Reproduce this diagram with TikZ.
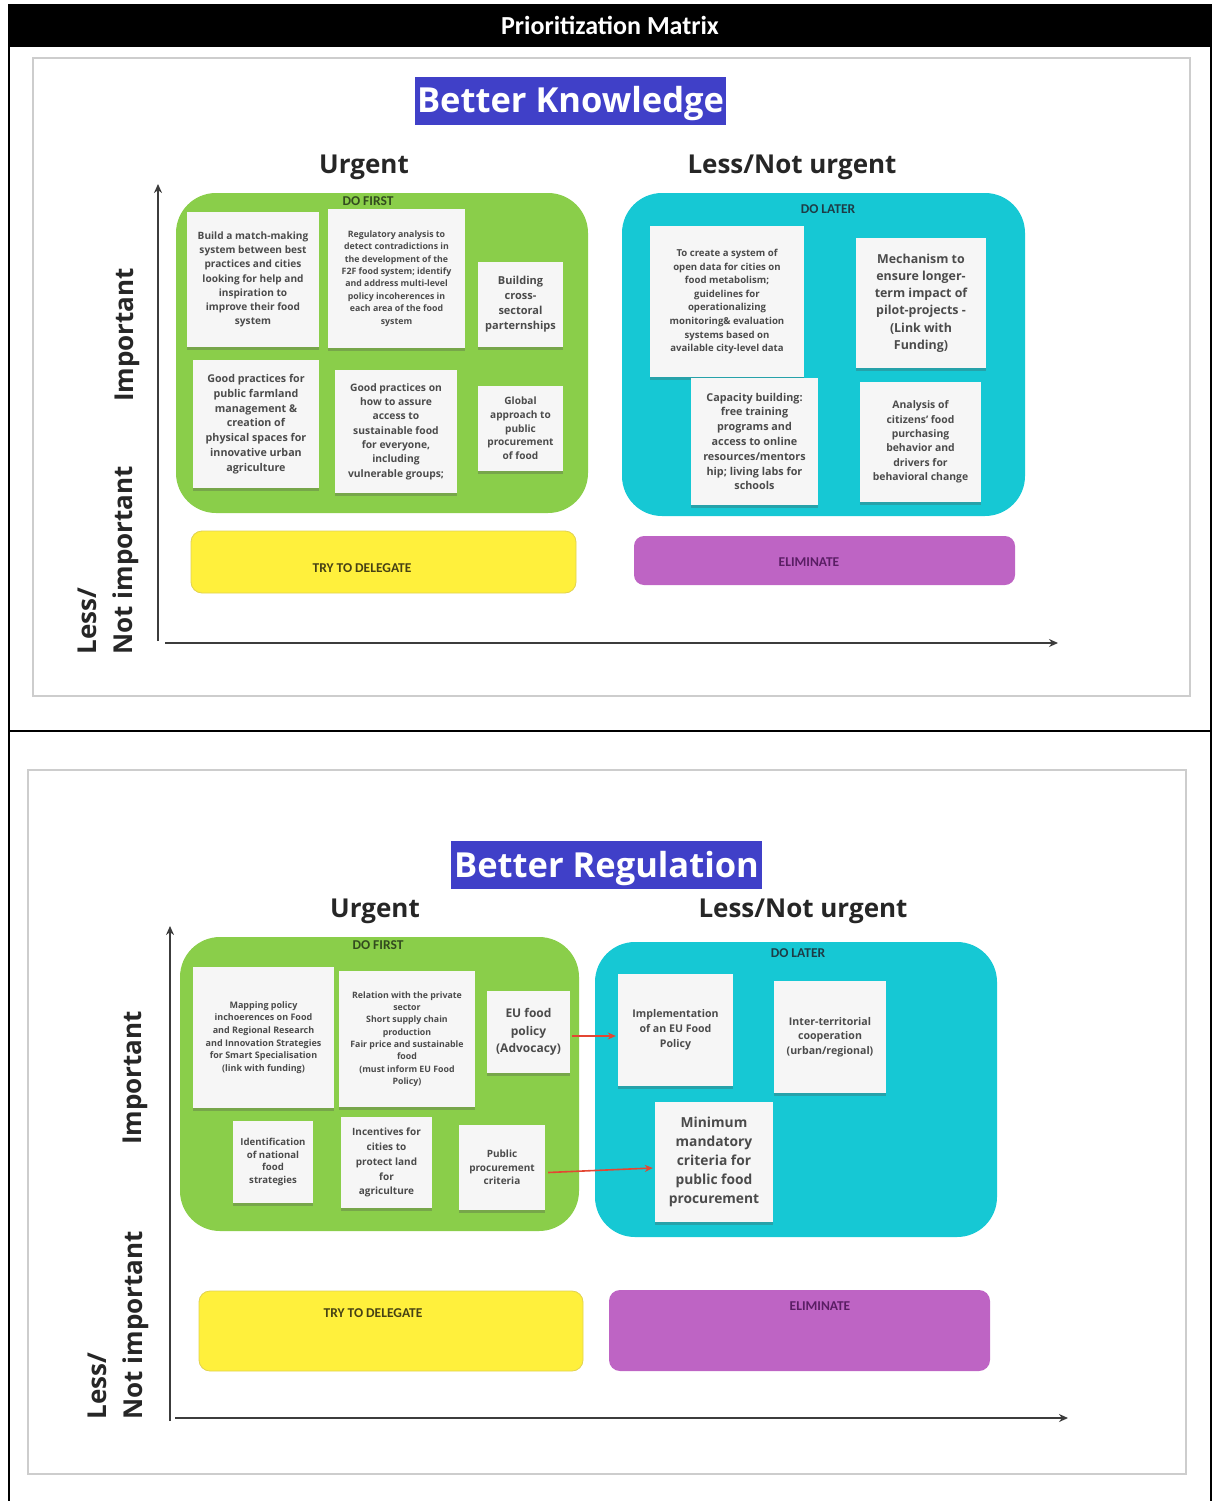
\documentclass[tikz,border=0pt]{standalone}
\usepackage{fontspec}
\setmainfont{Open Sans}
\newfontfamily\hdrfont{Carlito}
\usetikzlibrary{arrows.meta,shadows}
\definecolor{pgreen}{RGB}{138,206,74}
\definecolor{pteal}{RGB}{22,200,212}
\definecolor{pyellow}{RGB}{255,240,60}
\definecolor{pyellowd}{RGB}{225,210,80}
\definecolor{ppurple}{RGB}{190,100,196}
\definecolor{ptitle}{RGB}{64,64,200}
\definecolor{notefill}{RGB}{246,246,246}
\definecolor{notetext}{RGB}{75,75,75}
\definecolor{axisc}{RGB}{60,60,60}
\definecolor{framec}{RGB}{205,205,205}
\definecolor{arrowred}{RGB}{228,70,50}
\newcommand\nf[2]{\fontsize{#1}{#2}\selectfont\bfseries}
\tikzset{
  note/.style={fill=notefill, draw=none, inner sep=0pt, align=center, text=notetext,
    drop shadow={shadow xshift=0pt, shadow yshift=-3pt, opacity=0.3, fill=black!70}},
  bigbox/.style={draw=none, inner sep=0pt, rounded corners=40pt},
  smallbox/.style={inner sep=0pt, rounded corners=11pt},
  boxlabel/.style={font=\hdrfont\fontsize{13.5}{15}\selectfont\bfseries},
  axislabel/.style={font=\fontsize{26}{36}\selectfont\bfseries, text=black!85},
  titlebox/.style={fill=ptitle, text=white, inner sep=0pt, minimum width=311pt, minimum height=48pt,
    text height=26pt, text depth=2pt, font=\fontsize{34.5}{36}\selectfont\bfseries},
  axis/.style={draw=axisc, line width=2.2pt, -{Stealth[length=9pt,width=8pt]}},
  frame/.style={draw=framec, line width=2pt},
  redarrow/.style={draw=arrowred, line width=1.6pt, -{Stealth[length=8pt,width=7pt]}}
}
\begin{document}
\begin{tikzpicture}[x=1pt,y=-1pt]
\useasboundingbox (0,0) rectangle (1213,1501);
% table
\fill[black] (8,4) rectangle (1212,47);
\node[text=white, font=\hdrfont\fontsize{26}{28}\selectfont\bfseries] (hdr) at (610,25) {Prioritization Matrix};
\draw[line width=2pt] (9,47) -- (9,1501);
\draw[line width=2pt] (1211,47) -- (1211,1501);
\draw[line width=2pt] (9,731) -- (1211,731);

%% ===================== TOP: Better Knowledge =====================
\draw[frame] (33,58) rectangle (1190,696);
\node[titlebox] (t1) at (570.5,101) {Better Knowledge};
\node[axislabel] (u1) at (364,167) {Urgent};
\node[axislabel] (l1) at (792,167) {Less/Not urgent};
\node[axislabel, rotate=90] (i1) at (127,335) {Important};
\node[axislabel, rotate=90, anchor=west, align=left] (ni1) at (108,658) {Less/\\Not important};

\coordinate (ya1) at (158,641);
\coordinate (yb1) at (158,184);
\coordinate (xa1) at (165,643);
\coordinate (xb1) at (1058,643);
\draw[axis] (ya1) -- (yb1);
\draw[axis] (xa1) -- (xb1);

\node[bigbox, fill=pgreen, minimum width=412pt, minimum height=320pt] (g1) at (382,353) {};
\node[bigbox, fill=pteal, minimum width=403pt, minimum height=323pt] (b1) at (823.5,354.5) {};
\node[smallbox, fill=pyellow, draw=pyellowd, line width=0.8pt, minimum width=385pt, minimum height=62pt] (y1) at (383.5,562) {};
\node[smallbox, fill=ppurple, rounded corners=10pt, minimum width=381pt, minimum height=49pt] (p1) at (824.5,560.5) {};
\node[boxlabel, text={rgb,255:red,50;green,75;blue,30}] (df1) at (368,201) {DO FIRST};
\node[boxlabel, text={rgb,255:red,30;green,60;blue,70}] (dl1) at (828,209) {DO LATER};
\node[boxlabel, text={rgb,255:red,70;green,65;blue,20}] (td1) at (362,568) {TRY TO DELEGATE};
\node[boxlabel, text={rgb,255:red,90;green,30;blue,100}] (el1) at (809,562) {ELIMINATE};

% green notes (top)
\node[note, minimum width=132pt, minimum height=135pt, font=\nf{10.1}{14.2}] (n1) at (253,279.5)
 {Build a match-making\\system between best\\practices and cities\\looking for help and\\inspiration to\\improve their food\\system};
\node[note, minimum width=137pt, minimum height=139pt, font=\nf{8.8}{12.4}] (n2) at (396.5,278.5)
 {Regulatory analysis to\\detect contradictions in\\the development of the\\F2F food system; identify\\and address multi-level\\policy incoherences in\\each area of the food\\system};
\node[note, minimum width=85pt, minimum height=85pt, font=\nf{11}{15}] (n3) at (520.5,304.5)
 {Building\\cross-\\sectoral\\parternships};
\node[note, minimum width=126pt, minimum height=128pt, font=\nf{10.7}{14.8}] (n4) at (256,424)
 {Good practices for\\public farmland\\management \&\\creation of\\physical spaces for\\innovative urban\\agriculture};
\node[note, minimum width=122pt, minimum height=123pt, font=\nf{10.3}{14.3}] (n5) at (396,431.5)
 {Good practices on\\how to assure\\access to\\sustainable food\\for everyone,\\including\\vulnerable groups;};
\node[note, minimum width=85pt, minimum height=85pt, font=\nf{10.1}{13.7}] (n6) at (520.5,428.5)
 {Global\\approach to\\public\\procurement\\of food};

% teal notes (top)
\node[note, minimum width=154pt, minimum height=151pt, font=\nf{9.6}{13.6}] (m1) at (727,301.5)
 {To create a system of\\open data for cities on\\food metabolism;\\guidelines for\\operationalizing\\monitoring\& evaluation\\systems based on\\available city-level data};
\node[note, minimum width=130pt, minimum height=130pt, font=\nf{12.4}{17.2}] (m2) at (921,303)
 {Mechanism to\\ensure longer-\\term impact of\\pilot-projects -\\(Link with\\Funding)};
\node[note, minimum width=127pt, minimum height=127pt, font=\nf{10.8}{14.8}] (m3) at (754.5,441.5)
 {Capacity building:\\free training\\programs and\\access to online\\resources/mentors\\hip; living labs for\\schools};
\node[note, minimum width=121pt, minimum height=120pt, font=\nf{10.4}{14.3}] (m4) at (920.5,442)
 {Analysis of\\citizens' food\\purchasing\\behavior and\\drivers for\\behavioral change};

%% ===================== BOTTOM: Better Regulation =====================
\draw[frame] (28,770) rectangle (1186,1474);
\node[titlebox] (t2) at (606.5,865) {Better Regulation};
\node[axislabel] (u2) at (375,911) {Urgent};
\node[axislabel] (l2) at (803,911) {Less/Not urgent};
\node[axislabel, rotate=90] (i2) at (135,1078) {Important};
\node[axislabel, rotate=90, anchor=west, align=left] (ni2) at (118,1423) {Less/\\Not important};

\coordinate (ya2) at (170,1421);
\coordinate (yb2) at (170,926);
\coordinate (xa2) at (175,1418);
\coordinate (xb2) at (1068,1418);
\draw[axis] (ya2) -- (yb2);
\draw[axis] (xa2) -- (xb2);

\node[bigbox, fill=pgreen, minimum width=399pt, minimum height=294pt] (g2) at (379.5,1084) {};
\node[bigbox, fill=pteal, minimum width=402pt, minimum height=295pt] (b2) at (796,1089.5) {};
\node[smallbox, fill=pyellow, draw=pyellowd, line width=0.8pt, minimum width=384pt, minimum height=80pt] (y2) at (391,1331) {};
\node[smallbox, fill=ppurple, minimum width=381pt, minimum height=81pt] (p2) at (799.5,1330.5) {};
\node[boxlabel, text={rgb,255:red,50;green,75;blue,30}] (df2) at (378,945) {DO FIRST};
\node[boxlabel, text={rgb,255:red,30;green,60;blue,70}] (dl2) at (798,953) {DO LATER};
\node[boxlabel, text={rgb,255:red,70;green,65;blue,20}] (td2) at (373,1313) {TRY TO DELEGATE};
\node[boxlabel, text={rgb,255:red,90;green,30;blue,100}] (el2) at (820,1306) {ELIMINATE};

% green notes (bottom)
\node[note, minimum width=141pt, minimum height=141pt, font=\nf{9}{12.7}] (c1) at (263.5,1037.5)
 {Mapping policy\\inchoerences on Food\\and Regional Research\\and Innovation Strategies\\for Smart Specialisation\\(link with funding)};
\node[note, minimum width=136pt, minimum height=136pt, font=\nf{8.8}{12.3}] (c2) at (407,1039)
 {Relation with the private\\sector\\Short supply chain\\production\\Fair price and sustainable\\food\\(must inform EU Food\\Policy)};
\node[note, minimum width=83pt, minimum height=82pt, font=\nf{12}{17.5}] (c3) at (528.5,1032)
 {EU food\\policy\\(Advocacy)};
\node[note, minimum width=80pt, minimum height=82pt, font=\nf{9.6}{12.8}] (c4) at (273,1162)
 {Identification\\of national\\food\\strategies};
\node[note, minimum width=91pt, minimum height=91pt, font=\nf{10}{14.9}] (c5) at (386.5,1162.5)
 {Incentives for\\cities to\\protect land\\for\\agriculture};
\node[note, minimum width=86pt, minimum height=85pt, font=\nf{10}{13.5}] (c6) at (502,1167.5)
 {Public\\procurement\\criteria};

% teal notes (bottom)
\node[note, minimum width=115pt, minimum height=112pt, font=\nf{10.6}{14.8}] (d1) at (675.5,1030)
 {Implementation\\of an EU Food\\Policy};
\node[note, minimum width=112pt, minimum height=112pt, font=\nf{10.6}{14.4}] (d2) at (830,1037)
 {Inter-territorial\\cooperation\\(urban/regional)};
\node[note, minimum width=118pt, minimum height=120pt, font=\nf{13.8}{19}] (d3) at (714,1162)
 {Minimum\\mandatory\\criteria for\\public food\\procurement};

% red arrows
\draw[redarrow] ([xshift=2pt,yshift=-4pt]c3.east) -- ([xshift=-2pt,yshift=-6pt]d1.west);
\draw[redarrow] ([xshift=3pt,yshift=-5pt]c6.east) -- ([xshift=-2pt,yshift=-6pt]d3.west);
\end{tikzpicture}
\end{document}
